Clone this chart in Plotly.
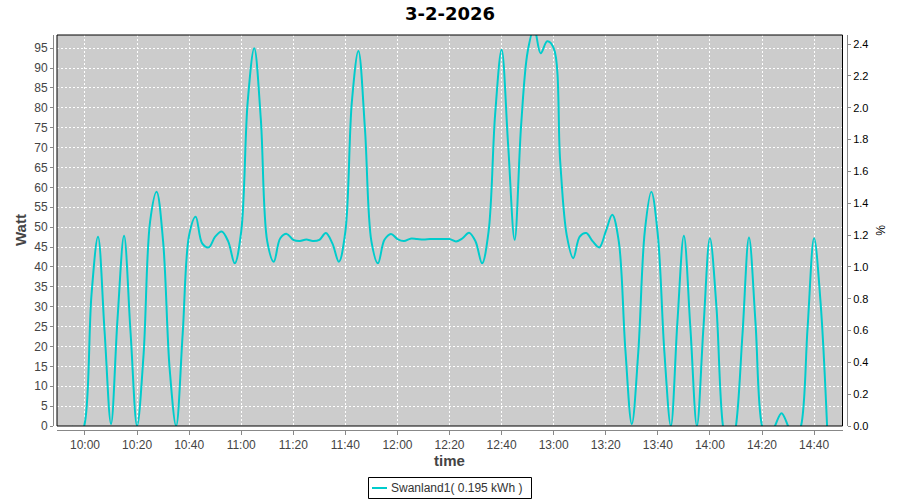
import plotly.graph_objects as go
import pandas as pd

# Power readings (W), every 2.5 minutes from 09:55 to 14:45
watt = [
    0, -4, 1, 33, 47.6, 24, 0.5, 27, 47.8, 23.5,          # 09:55 - 10:17:30
    0, 18, 51.4, 58.9, 46.4, 14.5, 0, 23, 48, 52.6,       # 10:20 - 10:42:30
    45.9, 44.9, 47.6, 48.9, 46.4, 40.9, 48.9, 81.6, 95, 77.4,   # 10:45 - 11:07:30
    46.4, 41.3, 47.2, 48.3, 46.8, 46.5, 46.9, 46.5, 46.8, 48.5, # 11:10 - 11:32:30
    45.9, 41.3, 48.9, 81.6, 94.3, 74.9, 46.4, 40.9, 46.8, 48.3, # 11:35 - 11:57:30
    47.0, 46.5, 47.1, 47.0, 46.9, 47.0, 47.0, 47.0, 47.0, 46.4, # 12:00 - 12:22:30
    47.2, 48.6, 46.4, 40.9, 48.9, 78.2, 94.6, 70.7, 46.8, 75.7, # 12:25 - 12:47:30
    94.1, 100, 93.7, 96.7, 95, 66.5, 48, 42.2, 47.6, 48.5,     # 12:50 - 13:12:30
    46.4, 44.9, 48.9, 53.1, 46.4, 19.5, 0.5, 18.7, 49, 58.9,   # 13:15 - 13:37:30
    48, 18.7, 0, 26, 47.8, 24.6, 0, 24.6, 47.2, 30,           # 13:40 - 14:02:30
    0, -8, 0, 23, 47.4, 26, 0, -4, 0, 3.2,                    # 14:05 - 14:27:30
    0, -4, 0, 24.6, 47.2, 31, 0,                              # 14:30 - 14:45
]
times = pd.date_range("2026-02-03 09:55:00", periods=len(watt), freq="150s")

series_name = "Swanland1( 0.195 kWh )"
title_text = "3-2-2026"
y_ticks = list(range(0, 100, 5))
pct_ticks = [round(0.2 * i, 1) for i in range(13)]

W_MAX = 98.3
PCT_MAX = 2.4575

FONT = "Liberation Sans"
TICK_GRAY = "#444444"
AXIS_GRAY = "#888888"
LINE_COLOR = "#00CCCC"

# the page body margin is removed (post_script), so the figure fills 900x500
OFF = 0
FIG_W, FIG_H = 900, 500
M_L, M_R, M_T, M_B = 53, 53, 35, 70
px_w = FIG_W - M_L - M_R
px_h = FIG_H - M_T - M_B


def sx(x):  # screen x -> paper
    return (x - OFF - M_L) / px_w


def sy(y):  # screen y -> paper
    return (FIG_H - M_B - (y - OFF)) / px_h


x_dom = [sx(57), sx(842.5)]
y_dom = [sy(426), 1]

fig = go.Figure()
fig.add_trace(go.Scatter(
    x=times, y=watt, mode="lines", name=series_name, showlegend=False,
    line=dict(color=LINE_COLOR, width=2, shape="spline", smoothing=1.0),
))
# empty trace so the right-hand % axis is drawn
fig.add_trace(go.Scatter(x=[times[0]], y=[None], yaxis="y2", showlegend=False,
                         hoverinfo="skip", mode="lines"))

fig.update_layout(
    width=FIG_W, height=FIG_H,
    margin=dict(l=M_L, r=M_R, t=M_T, b=M_B, autoexpand=False),
    paper_bgcolor="white",
    plot_bgcolor="#CCCCCC",
    font=dict(family=FONT, size=12, color=TICK_GRAY),
    showlegend=False,
    title=dict(text="<b>" + title_text + "</b>", x=0.5, xref="paper", xanchor="center",
               y=1 - 14 / FIG_H, yanchor="middle",
               font=dict(family="DejaVu Sans", size=18, color="black")),
    xaxis=dict(
        type="date", domain=x_dom, anchor="free", position=0, automargin=False,
        range=["2026-02-03 09:49:15", "2026-02-03 14:50:55"],
        tick0="2026-02-03 10:00:00", dtick=20 * 60 * 1000, tickformat="%H:%M",
        showgrid=True, gridcolor="white", griddash="2px,2px", gridwidth=1,
        showline=True, linecolor=AXIS_GRAY, linewidth=1,
        ticks="outside", ticklen=4, tickcolor=AXIS_GRAY,
        tickfont=dict(family=FONT, size=12, color=TICK_GRAY),
        zeroline=False,
    ),
    yaxis=dict(
        domain=y_dom, anchor="free", position=0, automargin=False,
        range=[0, W_MAX], tickvals=y_ticks,
        showgrid=True, gridcolor="white", griddash="2px,2px", gridwidth=1,
        showline=True, linecolor=AXIS_GRAY, linewidth=1,
        ticks="outside", ticklen=3, tickcolor=AXIS_GRAY,
        tickfont=dict(family=FONT, size=12, color=TICK_GRAY),
        zeroline=False,
    ),
    yaxis2=dict(
        domain=y_dom, anchor="free", position=1, overlaying="y", side="right",
        automargin=False,
        range=[0, PCT_MAX], tickvals=pct_ticks, tickformat=".1f",
        showgrid=False, zeroline=False,
        showline=True, linecolor=AXIS_GRAY, linewidth=1,
        ticks="outside", ticklen=3, tickcolor=AXIS_GRAY,
        tickfont=dict(family=FONT, size=11, color="black"),
    ),
    shapes=[
        # plot border
        dict(type="rect", xref="paper", yref="paper",
             x0=x_dom[0], x1=x_dom[1], y0=y_dom[0], y1=y_dom[1],
             line=dict(color="black", width=1), layer="above"),
        # legend box
        dict(type="rect", xref="paper", yref="paper",
             x0=sx(368.5), x1=sx(531.5), y0=sy(498.5), y1=sy(477.5),
             line=dict(color="black", width=1), fillcolor="white"),
        # legend line sample
        dict(type="line", xref="paper", yref="paper",
             x0=sx(372), x1=sx(387), y0=sy(488), y1=sy(488),
             line=dict(color=LINE_COLOR, width=2)),
    ],
    annotations=[
        dict(text=series_name, xref="paper", yref="paper",
             x=sx(389), y=sy(488), xanchor="left", yanchor="middle",
             showarrow=False, font=dict(family=FONT, size=12, color="#333333")),
        dict(text="<b>Watt</b>", xref="paper", yref="paper",
             x=sx(20), y=sy(230), textangle=-90, xanchor="center", yanchor="middle",
             showarrow=False, font=dict(family=FONT, size=15, color=TICK_GRAY)),
        dict(text="<b>time</b>", xref="paper", yref="paper",
             x=sx(449), y=sy(460), xanchor="center", yanchor="middle",
             showarrow=False, font=dict(family=FONT, size=15, color=TICK_GRAY)),
        dict(text="%", xref="paper", yref="paper",
             x=sx(880), y=sy(230), textangle=90, xanchor="center", yanchor="middle",
             showarrow=False, font=dict(family=FONT, size=12, color="black")),
    ],
)

fig.write_html("out.html",
               config={"displayModeBar": False},
               post_script="document.body.style.margin='0';document.body.style.padding='0';")
